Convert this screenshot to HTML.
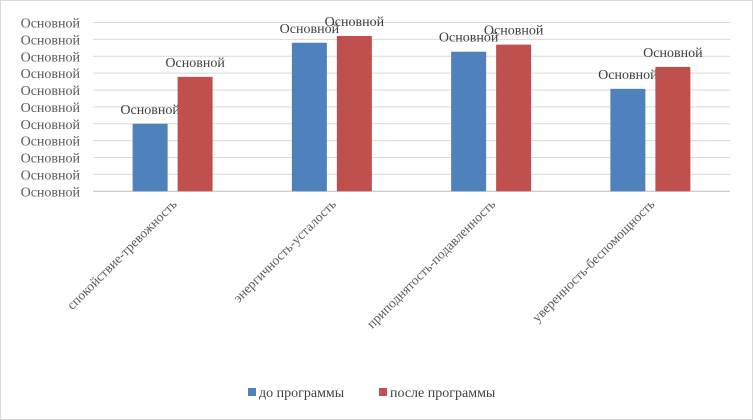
<!DOCTYPE html>
<html><head><meta charset="utf-8"><style>
html,body{margin:0;padding:0;background:#fff;}
svg{display:block;font-family:"Liberation Serif","DejaVu Serif",serif;}
</style></head><body>
<svg id="chart" width="753" height="420" viewBox="0 0 753 420">
<rect x="0.5" y="0.5" width="752" height="419" fill="#fff" stroke="#d9d9d9"/>
<g id="grid"></g>
<g id="yaxis"></g>
<g id="bars"></g>
<g id="xaxis"></g>
<g>
<g>
<rect x="248" y="388" width="8" height="8" fill="#4f81bd"/>
<text x="259" y="397" font-size="14" fill="#404040">до программы</text></g>
<g>
<rect x="379" y="388" width="8" height="8" fill="#c0504d"/>
<text x="390" y="397" font-size="14" fill="#404040">после программы</text></g>
</g>
</svg>
<script>
const categories=["спокойствие-тревожность","энергичность-усталость","приподнятость-подавленность","уверенность-беспомощность"];
const before=[4.0,8.8,8.27,6.07];
const after=[6.78,9.2,8.69,7.37];
const tickLabels=["Основной","Основной","Основной","Основной","Основной","Основной","Основной","Основной","Основной","Основной","Основной"];
const dataLabel="Основной";
const NS="http://www.w3.org/2000/svg";
const x0=93,x1=730,yTop=22.5,yBot=191.3,yMax=10;
const y=v=>yBot-(v/yMax)*(yBot-yTop);
const band=(x1-x0)/categories.length;
const cx=i=>x0+band*(i+0.5);
function mk(tag,attrs,parent){const e=document.createElementNS(NS,tag);for(const k in attrs)e.setAttribute(k,attrs[k]);parent.appendChild(e);return e;}
const grid=document.getElementById('grid'),ya=document.getElementById('yaxis'),bars=document.getElementById('bars'),xa=document.getElementById('xaxis');
tickLabels.forEach((t,i)=>{
  const v=i*yMax/(tickLabels.length-1);
  const l=mk('line',{x1:x0,x2:x1,y1:y(v),y2:y(v),stroke:i==0?'#bfbfbf':'#d9d9d9','stroke-width':1},grid);
  
  
  const tx=mk('text',{x:80,y:y(v)+5,'text-anchor':'end','font-size':14,fill:'#595959'},ya);
  tx.textContent=t;
  
  
});
const bw=35;
categories.forEach((c,i)=>{
  [[before[i],cx(i)-40,'#4f81bd','bar-before'],[after[i],cx(i)+5,'#c0504d','bar-after']].forEach(([v,bx,col,nm])=>{
    const r=mk('rect',{x:bx,y:y(v),width:bw,height:yBot-y(v),fill:col},bars);
    
    
    const t=mk('text',{x:bx+bw/2,y:y(v)-10,'text-anchor':'middle','font-size':14,fill:'#404040'},bars);
    t.textContent=dataLabel;
    
    
  });
  const ax=cx(i)+5,ay=205;
  const t=mk('text',{x:ax,y:ay,'text-anchor':'end','font-size':13.5,fill:'#595959',transform:`rotate(-45 ${ax} ${ay})`},xa);
  t.textContent=c;
  
  
});
</script>
</body></html>
